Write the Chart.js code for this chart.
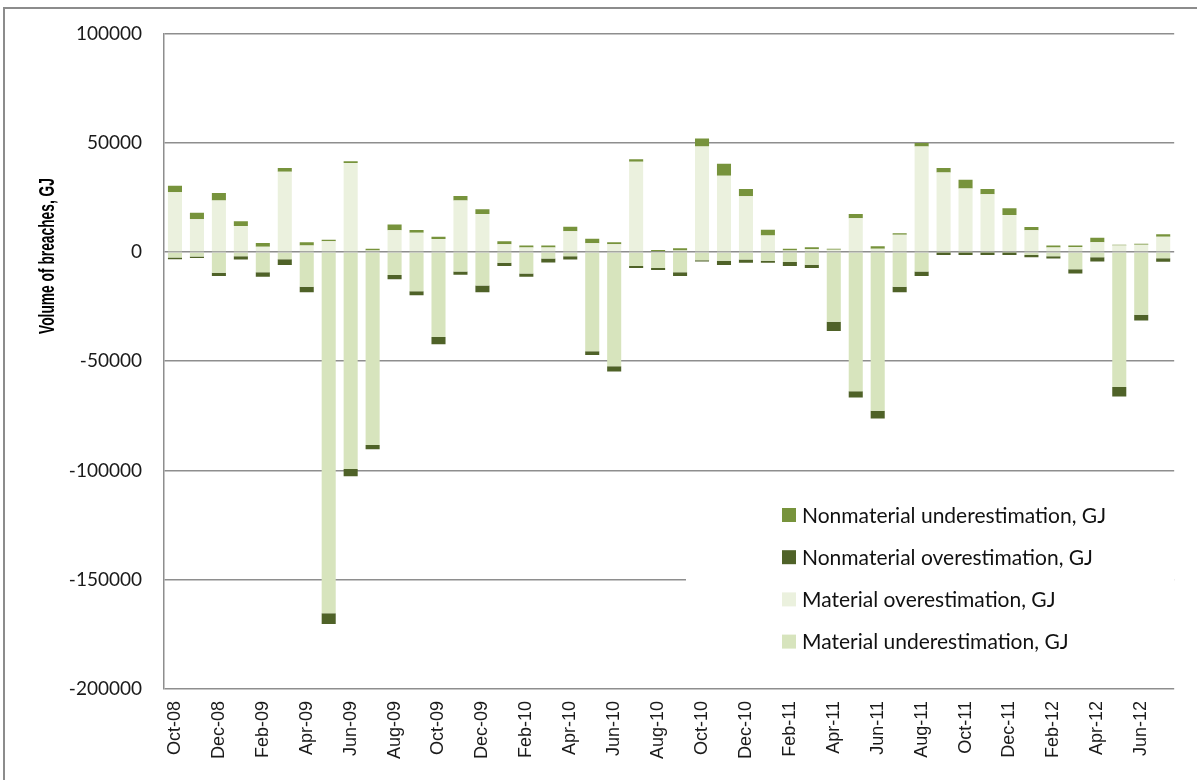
<!DOCTYPE html>
<html>
<head>
<meta charset="utf-8">
<script src="https://cdn.jsdelivr.net/npm/chart.js@4"></script>
<style>
  html, body { margin: 0; padding: 0; background: #ffffff; }
  canvas { display: block; }
</style>
</head>
<body>
<canvas id="c" width="1197" height="780"></canvas>
<script>
// ---- data (GJ) ----
const months = [
  "Oct-08","Nov-08","Dec-08",
  "Jan-09","Feb-09","Mar-09","Apr-09","May-09","Jun-09","Jul-09","Aug-09","Sep-09","Oct-09","Nov-09","Dec-09",
  "Jan-10","Feb-10","Mar-10","Apr-10","May-10","Jun-10","Jul-10","Aug-10","Sep-10","Oct-10","Nov-10","Dec-10",
  "Jan-11","Feb-11","Mar-11","Apr-11","May-11","Jun-11","Jul-11","Aug-11","Sep-11","Oct-11","Nov-11","Dec-11",
  "Jan-12","Feb-12","Mar-12","Apr-12","May-12","Jun-12","Jul-12"
];
const seriesNames = [
  "Nonmaterial underestimation, GJ",
  "Nonmaterial overestimation, GJ",
  "Material overestimation, GJ",
  "Material underestimation, GJ"
];
const nonmatUnder = [3000,2900,3500,2100,1700,1700,1500,700,800,900,2600,1200,1100,2100,2100,
  1400,900,900,2000,2000,900,1100,900,1100,3700,5500,3300,
  2600,900,900,500,2000,1100,600,1700,2100,4000,2400,3100,
  1500,900,600,2100,400,400,1100];
const matOver = [27300,15000,23500,11900,2400,36700,2900,4900,40700,600,9900,8800,5900,23500,17400,
  3500,2000,2000,9500,4000,3500,41300,0,600,48200,34900,25500,
  7500,600,1200,1000,15400,1500,7900,48200,36300,29000,26400,16900,
  9900,2000,2300,4400,2900,3300,7000];
const matUnder = [-2500,-2100,-9500,-2000,-9300,-3300,-15900,-165300,-99300,-88300,-10500,-18000,-38900,-9000,-15400,
  -5000,-9900,-3000,-2000,-45400,-52300,-6400,-7300,-9300,-3800,-4000,-3500,
  -4000,-4600,-5900,-31900,-63700,-72700,-15900,-9000,-300,-300,-300,-300,
  -1400,-2000,-7900,-2400,-61800,-28800,-2900];
const nonmatOver = [-800,-700,-1500,-1500,-2000,-2700,-2600,-5000,-3400,-2000,-2000,-1800,-3400,-1400,-3000,
  -1400,-1500,-1800,-1500,-1800,-2400,-1000,-1000,-1700,-600,-2000,-1400,
  -900,-1800,-1400,-4300,-2900,-3500,-2600,-2000,-1100,-1100,-1100,-1100,
  -1000,-1000,-2000,-2000,-4400,-2600,-1600];
const yTicks = [100000, 50000, 0, -50000, -100000, -150000, -200000];
const axisTitle = "Volume of breaches, GJ";

const COLORS = {
  nonmatUnder: "#77933C",
  nonmatOver: "#4F6228",
  matOver: "#EBF1DE",
  matUnder: "#D7E4BD"
};

const framePlugin = {
  id: "frame",
  beforeDraw(chart) {
    const ctx = chart.ctx;
    ctx.save();
    ctx.fillStyle = "#ffffff";
    ctx.fillRect(0, 0, chart.width, chart.height);
    ctx.strokeStyle = "#8c8c8c";
    ctx.lineWidth = 2;
    ctx.strokeRect(4, 8, chart.width + 10, chart.height + 10);
    ctx.restore();
  },
  afterDraw(chart) {
    const ctx = chart.ctx;
    const y = chart.scales.y;
    const area = chart.chartArea;
    ctx.save();
    // axis title
    ctx.translate(48, 256);
    ctx.rotate(-Math.PI / 2);
    ctx.font = "bold 22px 'Liberation Sans', Arial, sans-serif";
    const w = ctx.measureText(axisTitle).width;
    ctx.scale(156 / w, 1);
    ctx.fillStyle = "#000000";
    ctx.textAlign = "center";
    ctx.textBaseline = "middle";
    ctx.fillText(axisTitle, 0, 0);
    ctx.restore();

    // legend box (white, covers gridlines)
    ctx.save();
    const top = y.getPixelForValue(-100000) + 4;
    const bottom = y.getPixelForValue(-200000) - 3;
    ctx.fillStyle = "#ffffff";
    ctx.fillRect(686, top, area.right - 686, bottom - top);
    const items = [
      [seriesNames[0], COLORS.nonmatUnder],
      [seriesNames[1], COLORS.nonmatOver],
      [seriesNames[2], COLORS.matOver],
      [seriesNames[3], COLORS.matUnder]
    ];
    ctx.font = "21px Lato";
    ctx.textBaseline = "middle";
    ctx.textAlign = "left";
    items.forEach((it, i) => {
      const cy = 515 + i * 42.2;
      ctx.fillStyle = it[1];
      ctx.fillRect(782, cy - 7, 14, 14);
      ctx.fillStyle = "#111111";
      ctx.fillText(it[0], 802, cy + 1);
    });
    ctx.restore();
  }
};

new Chart(document.getElementById("c"), {
  type: "bar",
  data: {
    labels: months,
    datasets: [
      { label: seriesNames[2], data: matOver, backgroundColor: COLORS.matOver, stack: "s" },
      { label: seriesNames[0], data: nonmatUnder, backgroundColor: COLORS.nonmatUnder, stack: "s" },
      { label: seriesNames[3], data: matUnder, backgroundColor: COLORS.matUnder, stack: "s" },
      { label: seriesNames[1], data: nonmatOver, backgroundColor: COLORS.nonmatOver, stack: "s" }
    ]
  },
  options: {
    responsive: false,
    animation: false,
    devicePixelRatio: 1,
    layout: { padding: { top: 33, right: 19, bottom: 0, left: 0 } },
    datasets: { bar: { barPercentage: 0.64, categoryPercentage: 1.0, borderWidth: 0 } },
    plugins: { legend: { display: false }, tooltip: { enabled: false } },
    scales: {
      x: {
        stacked: true,
        grid: { display: false, drawTicks: false },
        border: { display: false },
        afterFit(scale) { scale.height = 91; },
        ticks: {
          autoSkip: false,
          minRotation: 90,
          maxRotation: 90,
          padding: 12,
          color: "#1a1a1a",
          font: { family: "Liberation Sans", size: 18 },
          callback(v, i) { return i % 2 === 0 ? months[i] : ""; }
        }
      },
      y: {
        stacked: true,
        min: -200000,
        max: 100000,
        afterFit(scale) { scale.width = 164; },
        afterBuildTicks(scale) { scale.ticks = yTicks.map(v => ({ value: v })); },
        grid: { color: "#8e8e8e", lineWidth: 1.5, drawTicks: false },
        border: { display: true, color: "#8e8e8e", width: 1.5 },
        ticks: {
          padding: 22,
          color: "#1a1a1a",
          font: { family: "Lato", size: 19 },
          callback(v) { return String(v); }
        }
      }
    }
  },
  plugins: [framePlugin]
});
</script>
</body>
</html>
